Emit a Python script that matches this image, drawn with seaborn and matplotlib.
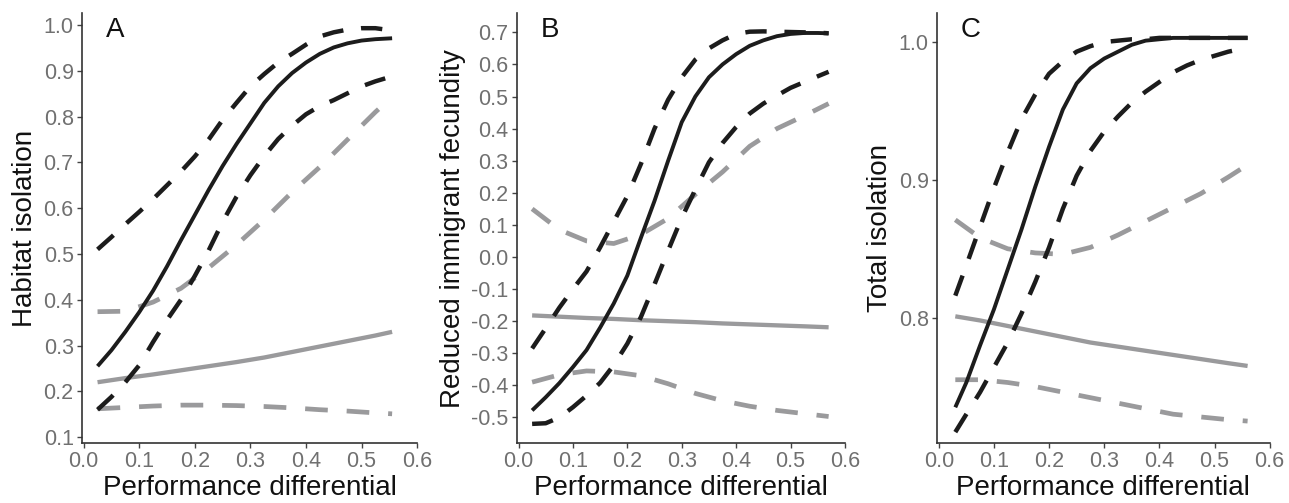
import numpy as np
import pandas as pd
import seaborn as sns
import matplotlib.pyplot as plt

# x positions of the fitted curves (fine grid for the steep black curves)
xa_fine = [0.025, 0.05, 0.075, 0.1, 0.125, 0.15, 0.175, 0.2, 0.225, 0.25, 0.275,
           0.3, 0.325, 0.35, 0.375, 0.4, 0.425, 0.45, 0.475, 0.5, 0.525, 0.555]
xa = [0.025, 0.075, 0.125, 0.175, 0.225, 0.275, 0.325, 0.375, 0.425, 0.475, 0.525, 0.555]
xb_fine = [0.025, 0.05, 0.075, 0.1, 0.125, 0.15, 0.175, 0.2, 0.225, 0.25, 0.275,
           0.3, 0.325, 0.35, 0.375, 0.4, 0.425, 0.45, 0.475, 0.5, 0.525, 0.55, 0.57]
xb = [0.025, 0.075, 0.125, 0.175, 0.225, 0.275, 0.325, 0.375, 0.425, 0.475, 0.525, 0.57]
xc_fine = [0.03, 0.05, 0.075, 0.1, 0.125, 0.15, 0.175, 0.2, 0.225, 0.25, 0.275,
           0.3, 0.325, 0.35, 0.375, 0.4, 0.425, 0.45, 0.475, 0.5, 0.525, 0.56]
xc = [0.03, 0.075, 0.125, 0.175, 0.225, 0.275, 0.325, 0.375, 0.425, 0.475, 0.525, 0.56]

# Panel A: habitat isolation
a_black = [0.255, 0.29, 0.33, 0.373, 0.42, 0.473, 0.53, 0.585, 0.64, 0.692, 0.74,
           0.785, 0.83, 0.866, 0.895, 0.918, 0.937, 0.951, 0.96, 0.966, 0.969, 0.971]
a_black_hi = [0.51, 0.537, 0.565, 0.592, 0.62, 0.65, 0.68, 0.713, 0.75, 0.793, 0.83,
              0.866, 0.893, 0.918, 0.937, 0.957, 0.975, 0.984, 0.99, 0.993, 0.993, 0.988]
a_black_lo = [0.16, 0.188, 0.22, 0.257, 0.308, 0.356, 0.4, 0.452, 0.508, 0.57, 0.625,
              0.672, 0.714, 0.751, 0.78, 0.805, 0.823, 0.836, 0.851, 0.866, 0.877, 0.888]
a_gray = [0.22, 0.229, 0.237, 0.246, 0.255, 0.264, 0.274, 0.286, 0.298, 0.31, 0.322, 0.33]
a_gray_hi = [0.374, 0.375, 0.395, 0.425, 0.47, 0.52, 0.575, 0.635, 0.69, 0.75, 0.81, 0.843]
a_gray_lo = [0.162, 0.165, 0.168, 0.17, 0.17, 0.169, 0.167, 0.164, 0.16, 0.157, 0.153, 0.151]

# Panel B: reduced immigrant fecundity
b_black = [-0.478, -0.437, -0.393, -0.343, -0.29, -0.22, -0.145, -0.058, 0.06, 0.175, 0.3,
           0.42, 0.5, 0.56, 0.6, 0.632, 0.658, 0.675, 0.688, 0.695, 0.698, 0.698, 0.697]
b_black_hi = [-0.285, -0.222, -0.158, -0.1, -0.045, 0.03, 0.11, 0.19, 0.29, 0.4, 0.49,
              0.56, 0.615, 0.65, 0.675, 0.695, 0.702, 0.703, 0.702, 0.701, 0.7, 0.699, 0.697]
b_black_lo = [-0.52, -0.518, -0.5, -0.468, -0.432, -0.392, -0.337, -0.27, -0.187, -0.085, 0.02,
              0.122, 0.21, 0.295, 0.355, 0.405, 0.447, 0.478, 0.503, 0.527, 0.545, 0.563, 0.577]
b_gray = [-0.182, -0.186, -0.19, -0.193, -0.197, -0.2, -0.203, -0.207, -0.21, -0.213, -0.216, -0.219]
b_gray_hi = [0.15, 0.085, 0.05, 0.042, 0.07, 0.12, 0.195, 0.265, 0.345, 0.4, 0.44, 0.478]
b_gray_lo = [-0.39, -0.367, -0.355, -0.358, -0.37, -0.395, -0.425, -0.448, -0.465, -0.478, -0.488, -0.497]

# Panel C: total isolation
c_black = [0.735, 0.753, 0.78, 0.806, 0.835, 0.864, 0.895, 0.924, 0.951, 0.97, 0.981,
           0.988, 0.993, 0.998, 1.001, 1.002, 1.003, 1.003, 1.003, 1.003, 1.003, 1.003]
c_black_hi = [0.816, 0.838, 0.866, 0.894, 0.92, 0.944, 0.962, 0.977, 0.986, 0.993, 0.997,
              1.0, 1.001, 1.002, 1.002, 1.003, 1.003, 1.003, 1.003, 1.003, 1.003, 1.003]
c_black_lo = [0.717, 0.73, 0.746, 0.764, 0.782, 0.803, 0.826, 0.851, 0.879, 0.903, 0.921,
              0.935, 0.946, 0.956, 0.964, 0.971, 0.978, 0.983, 0.987, 0.99, 0.993, 0.996]
c_gray = [0.801, 0.798, 0.794, 0.79, 0.786, 0.782, 0.779, 0.776, 0.773, 0.77, 0.767, 0.765]
c_gray_hi = [0.871, 0.858, 0.85, 0.847, 0.846, 0.851, 0.86, 0.87, 0.88, 0.89, 0.902, 0.911]
c_gray_lo = [0.755, 0.755, 0.753, 0.75, 0.746, 0.742, 0.738, 0.734, 0.73, 0.728, 0.726, 0.725]

panels = [
    ("A", "Habitat isolation",
     [(xa, a_gray), (xa, a_gray_hi), (xa, a_gray_lo),
      (xa_fine, a_black), (xa_fine, a_black_hi), (xa_fine, a_black_lo)],
     (0.087, 1.026), np.arange(0.1, 1.01, 0.1)),
    ("B", "Reduced immigrant fecundity",
     [(xb, b_gray), (xb, b_gray_hi), (xb, b_gray_lo),
      (xb_fine, b_black), (xb_fine, b_black_hi), (xb_fine, b_black_lo)],
     (-0.58, 0.76), np.arange(-0.5, 0.71, 0.1)),
    ("C", "Total isolation",
     [(xc, c_gray), (xc, c_gray_hi), (xc, c_gray_lo),
      (xc_fine, c_black), (xc_fine, c_black_hi), (xc_fine, c_black_lo)],
     (0.709, 1.021), [0.8, 0.9, 1.0]),
]

sns.set_theme(style="ticks")
plt.rcParams["font.family"] = ["Liberation Sans", "DejaVu Sans"]

BLACK = "#1c1c1c"
GRAY = "#9a9a9c"
DASH = (0, (4.8, 4.0))
# gray solid, gray dashed x2, black solid, black dashed x2
styles = [
    (GRAY, "-", 3.1),
    (GRAY, DASH, 3.4),
    (GRAY, DASH, 3.4),
    (BLACK, "-", 2.8),
    (BLACK, DASH, 3.2),
    (BLACK, DASH, 3.2),
]

fig = plt.figure(figsize=(12.89, 5.03), dpi=100)
lefts = [0.0636, 0.401, 0.727]
widths = [0.26, 0.2545, 0.258]

for (letter, ylabel, series, ylim, yticks), left, w in zip(panels, lefts, widths):
    ax = fig.add_axes([left, 0.119, w, 0.855])
    for (xs, ys), (color, ls, lw) in zip(series, styles):
        df = pd.DataFrame({"x": xs, "y": ys})
        sns.lineplot(data=df, x="x", y="y", ax=ax, color=color, linestyle=ls,
                     linewidth=lw, solid_capstyle="butt", dash_capstyle="butt")
    ax.set_xlim(-0.003, 0.6)
    ax.set_ylim(*ylim)
    ax.set_xticks(np.arange(0, 0.61, 0.1))
    ax.set_xticklabels([f"{v:.1f}" for v in np.arange(0, 0.61, 0.1)])
    ax.set_yticks(yticks)
    ax.set_yticklabels([f"{v:.1f}" if abs(v) > 1e-9 else "0.0" for v in yticks])
    ax.set_xlabel("Performance differential", fontsize=20, color="#111111", labelpad=2)
    ax.set_ylabel(ylabel, fontsize=20, color="#111111", labelpad=4)
    ax.tick_params(axis="both", labelsize=15.5, labelcolor="#707070", color="#444444",
                   length=3.5, width=1, pad=2.5)
    for s in ["left", "bottom"]:
        ax.spines[s].set_color("#333333")
        ax.spines[s].set_linewidth(1.2)
    sns.despine(ax=ax)
    ax.text(0.1, 0.99, letter, transform=ax.transAxes, fontsize=20, color="#111111",
            ha="center", va="top")

fig.savefig("out.png", dpi=100)
